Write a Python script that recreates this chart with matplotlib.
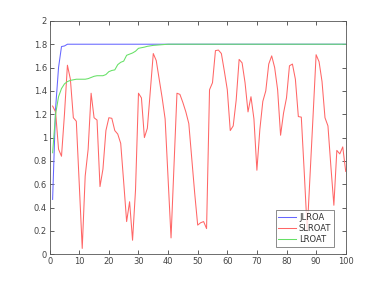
import matplotlib
matplotlib.use("Agg")
import matplotlib.pyplot as plt

# -------------------------------
# Data
# -------------------------------

x = list(range(1, 101))

jlroa = [0.47, 1.25, 1.60, 1.78, 1.785] + [1.80] * 95

lroat = [0.87, 1.20, 1.35, 1.42, 1.46, 1.48, 1.49, 1.495, 1.50, 1.50,
         1.50, 1.50, 1.505, 1.515, 1.525, 1.53, 1.53, 1.53, 1.54, 1.565,
         1.575, 1.58, 1.625, 1.645, 1.655, 1.705, 1.715, 1.725, 1.74, 1.765,
         1.77, 1.775, 1.782, 1.786, 1.79, 1.792, 1.794, 1.796, 1.798] + [1.80] * 61

slroat = [1.27, 1.22, 0.90, 0.84, 1.20, 1.62, 1.50, 1.17, 1.14, 0.60,
          0.05, 0.67, 0.90, 1.38, 1.17, 1.15, 0.58, 0.73, 1.06, 1.17,
          1.165, 1.06, 1.03, 0.95, 0.62, 0.28, 0.45, 0.12, 0.55, 1.38,
          1.34, 1.00, 1.08, 1.40, 1.72, 1.66, 1.50, 1.34, 1.16, 0.65,
          0.14, 0.76, 1.38, 1.37, 1.30, 1.22, 1.12, 0.82, 0.52, 0.25,
          0.27, 0.28, 0.22, 1.41, 1.47, 1.745, 1.75, 1.72, 1.57, 1.41,
          1.06, 1.10, 1.32, 1.67, 1.64, 1.47, 1.22, 1.35, 1.16, 0.72,
          1.07, 1.31, 1.40, 1.63, 1.70, 1.60, 1.41, 1.02, 1.21, 1.34,
          1.615, 1.63, 1.50, 1.18, 1.175, 0.70, 0.20, 0.70, 1.20, 1.71,
          1.65, 1.48, 1.17, 1.10, 0.75, 0.42, 0.89, 0.86, 0.92, 0.71]

xticks = list(range(0, 101, 10))
yticks = [0, 0.2, 0.4, 0.6, 0.8, 1, 1.2, 1.4, 1.6, 1.8, 2]
ytick_labels = ['0', '0.2', '0.4', '0.6', '0.8', '1', '1.2', '1.4', '1.6', '1.8', '2']

# -------------------------------
# Plot
# -------------------------------

fig = plt.figure(figsize=(3.82, 2.86), dpi=100)
ax = fig.add_axes([0.13, 0.111, 0.775, 0.816])

ax.plot(x, jlroa, color='#6666ff', lw=0.75, label='JLROA')
ax.plot(x, slroat, color='#ff6666', lw=0.75, label='SLROAT')
ax.plot(x, lroat, color='#66e066', lw=0.75, label='LROAT')

ax.set_xlim(0, 100)
ax.set_ylim(0, 2)
ax.set_xticks(xticks)
ax.set_yticks(yticks)
ax.set_yticklabels(ytick_labels)

ax.tick_params(direction='in', length=3, width=0.6, labelsize=6,
               colors='#444444', top=True, right=True, pad=2)
for s in ax.spines.values():
    s.set_color('#555555')
    s.set_linewidth(0.6)

leg = ax.legend(loc='lower right', bbox_to_anchor=(0.96, 0.033),
                borderaxespad=0, fontsize=6, fancybox=False,
                handlelength=2.2, handletextpad=0.3, labelspacing=0.25,
                borderpad=0.3)
leg.get_frame().set_edgecolor('#555555')
leg.get_frame().set_linewidth(0.6)
for t in leg.get_texts():
    t.set_color('#333333')

fig.savefig("out.png", dpi=100)
